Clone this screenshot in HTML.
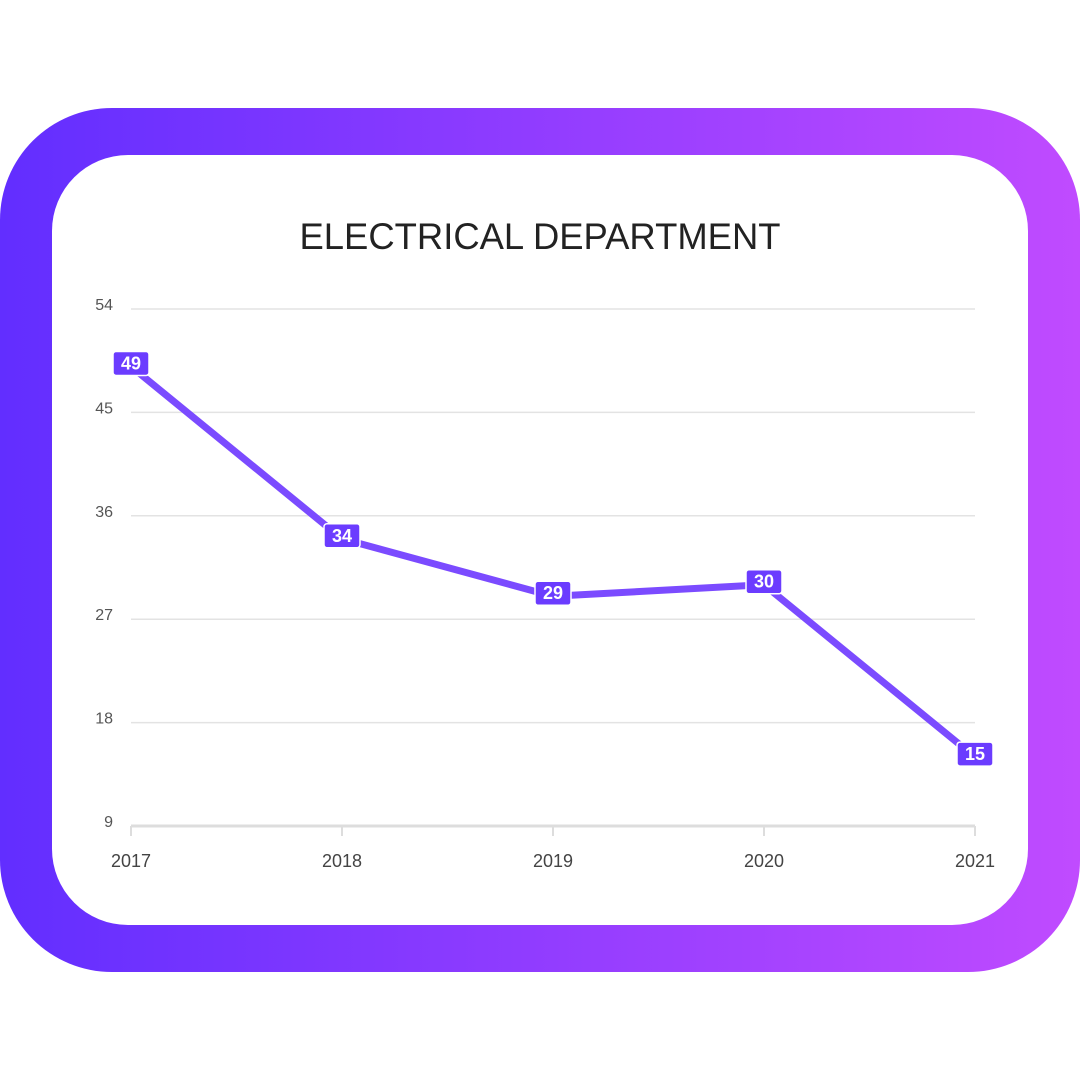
<!DOCTYPE html>
<html><head><meta charset="utf-8"><style>
html,body{margin:0;padding:0;background:#fff;width:1080px;height:1080px;overflow:hidden}
</style></head><body>
<svg width="1080" height="1080" xmlns="http://www.w3.org/2000/svg">
<defs>
<linearGradient id="g" x1="0" x2="1" y1="0" y2="0"><stop offset="0" stop-color="#622eff"/><stop offset="1" stop-color="#c04bff"/></linearGradient>
</defs>
<rect x="0" y="108" width="1080" height="864" rx="112" fill="url(#g)"/>
<rect x="52" y="155" width="976" height="770" rx="76" fill="#fff"/>
<text x="540" y="249" text-anchor="middle" font-family="Liberation Sans, sans-serif" font-size="37" textLength="481" lengthAdjust="spacingAndGlyphs" fill="#222">ELECTRICAL DEPARTMENT</text>
<g id="grid"></g><g id="plot"></g>
</svg>
<script>
const categories=["2017","2018","2019","2020","2021"];
const values=[49,34,29,30,15];
const yTicks=[9,18,27,36,45,54];
const NS="http://www.w3.org/2000/svg";
const x0=131,x1=975,yTop=309,yBot=826,vMin=9,vMax=54;
const xs=i=>x0+(x1-x0)*i/(categories.length-1);
const ys=v=>yBot-(v-vMin)/(vMax-vMin)*(yBot-yTop);
function mk(t,a,p){const e=document.createElementNS(NS,t);for(const k in a)e.setAttribute(k,a[k]);p.appendChild(e);return e;}
const grid=document.getElementById('grid'),plot=document.getElementById('plot');
yTicks.forEach(v=>{
 const y=ys(v);
 const l=mk('line',{x1:x0,x2:x1,y1:y,y2:y,stroke:v===vMin?'#ddd':'#e3e3e3','stroke-width':v===vMin?3:1.5},grid);
 
 
 const t=mk('text',{x:113,y:y+1,'text-anchor':'end','font-family':'Liberation Sans, sans-serif','font-size':16,fill:'#555'},grid);
 t.textContent=v;
 
 
});
categories.forEach((c,i)=>{
 const x=xs(i);
 const tk=mk('line',{x1:x,x2:x,y1:yBot,y2:yBot+10,stroke:'#ddd','stroke-width':2},grid);
 
 
 const t=mk('text',{x:x,y:867,'text-anchor':'middle','font-family':'Liberation Sans, sans-serif','font-size':18,fill:'#444'},grid);
 t.textContent=c;
 
 
});
const pl=mk('polyline',{points:values.map((v,i)=>xs(i)+','+ys(v)).join(' '),fill:'none',stroke:'#7b4bff','stroke-width':7,'stroke-linejoin':'round'},plot);


values.forEach((v,i)=>{
 const x=xs(i),y=ys(v)-3;
 const r=mk('rect',{x:x-18,y:y-12,width:36,height:24,rx:3,fill:'#6b3cff',stroke:'#fff','stroke-width':1.5},plot);
 
 
 const t=mk('text',{x:x,y:y+6,'text-anchor':'middle','font-family':'Liberation Sans, sans-serif','font-size':18,'font-weight':'bold',fill:'#fff'},plot);
 t.textContent=v;
 
 
});
</script>
</body></html>
